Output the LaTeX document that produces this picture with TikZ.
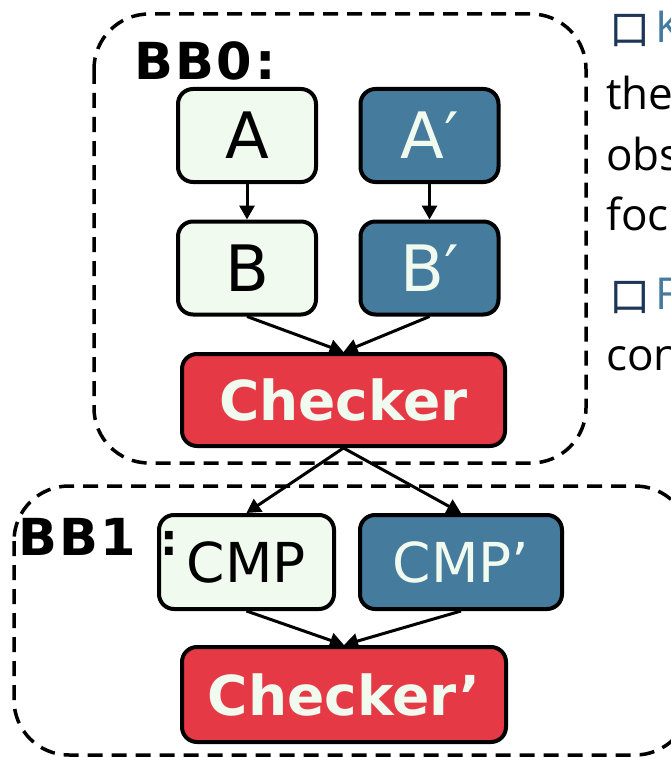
\documentclass[tikz,border=0pt]{standalone}
\usepackage{fontspec}
\setmainfont{DejaVu Sans}
\newfontfamily\notefont{Open Sans}
\newfontfamily\cjk{Noto Sans CJK SC}
\usetikzlibrary{arrows.meta}
\definecolor{paper}{HTML}{F1FAEE}
\definecolor{steel}{HTML}{457B9D}
\definecolor{crimson}{HTML}{E63946}
\definecolor{navy}{HTML}{1D3557}

\begin{document}
\begin{tikzpicture}[x=1pt,y=-1pt,
  box/.style={draw=black, line width=4pt, rounded corners=15pt, inner sep=0pt,
    minimum height=93pt},
  lightbox/.style={box, fill=paper, text=black},
  bluebox/.style={box, fill=steel, text=paper},
  redbox/.style={box, fill=crimson, text=paper, font=\fontsize{55}{60}\selectfont\bfseries},
  bigtxt/.style={font=\fontsize{64}{70}\selectfont},
  cmptxt/.style={font=\fontsize{55}{60}\selectfont},
  grouplbl/.style={anchor=base west, inner sep=0pt,
    font=\fontsize{51}{56}\selectfont\bfseries\addfontfeatures{LetterSpace=5}},
  group/.style={draw=black, line width=3.5pt, dash pattern=on 15pt off 9pt, rounded corners=55pt},
  flow/.style={draw=black, line width=3pt, -{Triangle[length=14pt,width=15pt]}},
  note/.style={anchor=base west, inner sep=0pt, font=\notefont\fontsize{44}{50}\selectfont},
  bulletmark/.style={anchor=base west, inner sep=0pt, text=navy, font=\cjk\fontsize{41}{41}\selectfont},
]
\clip (0,0) rectangle (671,757);

% basic-block frames
\draw[group] (94,14) rectangle (586,463);
\draw[group] (14,486) rectangle (690,755);

% BB0 contents
\node[lightbox, bigtxt, minimum width=138pt] (A)  at (247,135.5) {A};
\node[bluebox,  bigtxt, minimum width=138pt] (Ap) at (429.5,135.5) {A′};
\node[lightbox, bigtxt, minimum width=138pt] (B)  at (247,268) {B};
\node[bluebox,  bigtxt, minimum width=138pt] (Bp) at (429.5,268) {B′};
\node[redbox, minimum width=323pt, minimum height=92pt] (chk) at (343.5,400) {Checker};

% BB1 contents
\node[lightbox, cmptxt, minimum width=175pt, minimum height=94pt] (cmp)  at (246.5,562) {CMP};
\node[bluebox,  cmptxt, minimum width=202pt, minimum height=94pt] (cmpp) at (461,562) {CMP’};
\node[redbox, minimum width=324pt, minimum height=95pt] (chk2) at (344,694.5) {Checker’};

% data flow
\draw[flow] (A) -- (B);
\draw[flow] (Ap) -- (Bp);
\draw[flow] (B.south) -- (chk.north);
\draw[flow] (Bp.south) -- (chk.north);
\draw[flow] (chk.south) -- (cmp.north);
\draw[flow] (chk.south) -- (cmpp.north);
\draw[flow] (cmp.south) -- (chk2.north);
\draw[flow] (cmpp.south) -- (chk2.north);

% block labels (drawn last so the BB1 colon sits over the CMP box)
\node[grouplbl] (bb0) at (134,80) {BB0:};
\node[grouplbl] (bb1) at (18,555) {BB1\kern 24pt{\fontsize{44}{48}\selectfont:}};

% side notes
\node[bulletmark] (m1) at (609,45) {口};
\node[note, text=steel] (k1) at (655,43) {K};
\node[note] (l2) at (606,110) {the};
\node[note] (l3) at (606,170) {obs};
\node[note] (l4) at (606,230) {foc};
\node[bulletmark] (m2) at (609,311) {口};
\node[note, text=steel] (k2) at (655,309) {F};
\node[note] (l6) at (606,370) {con};
\end{tikzpicture}
\end{document}
